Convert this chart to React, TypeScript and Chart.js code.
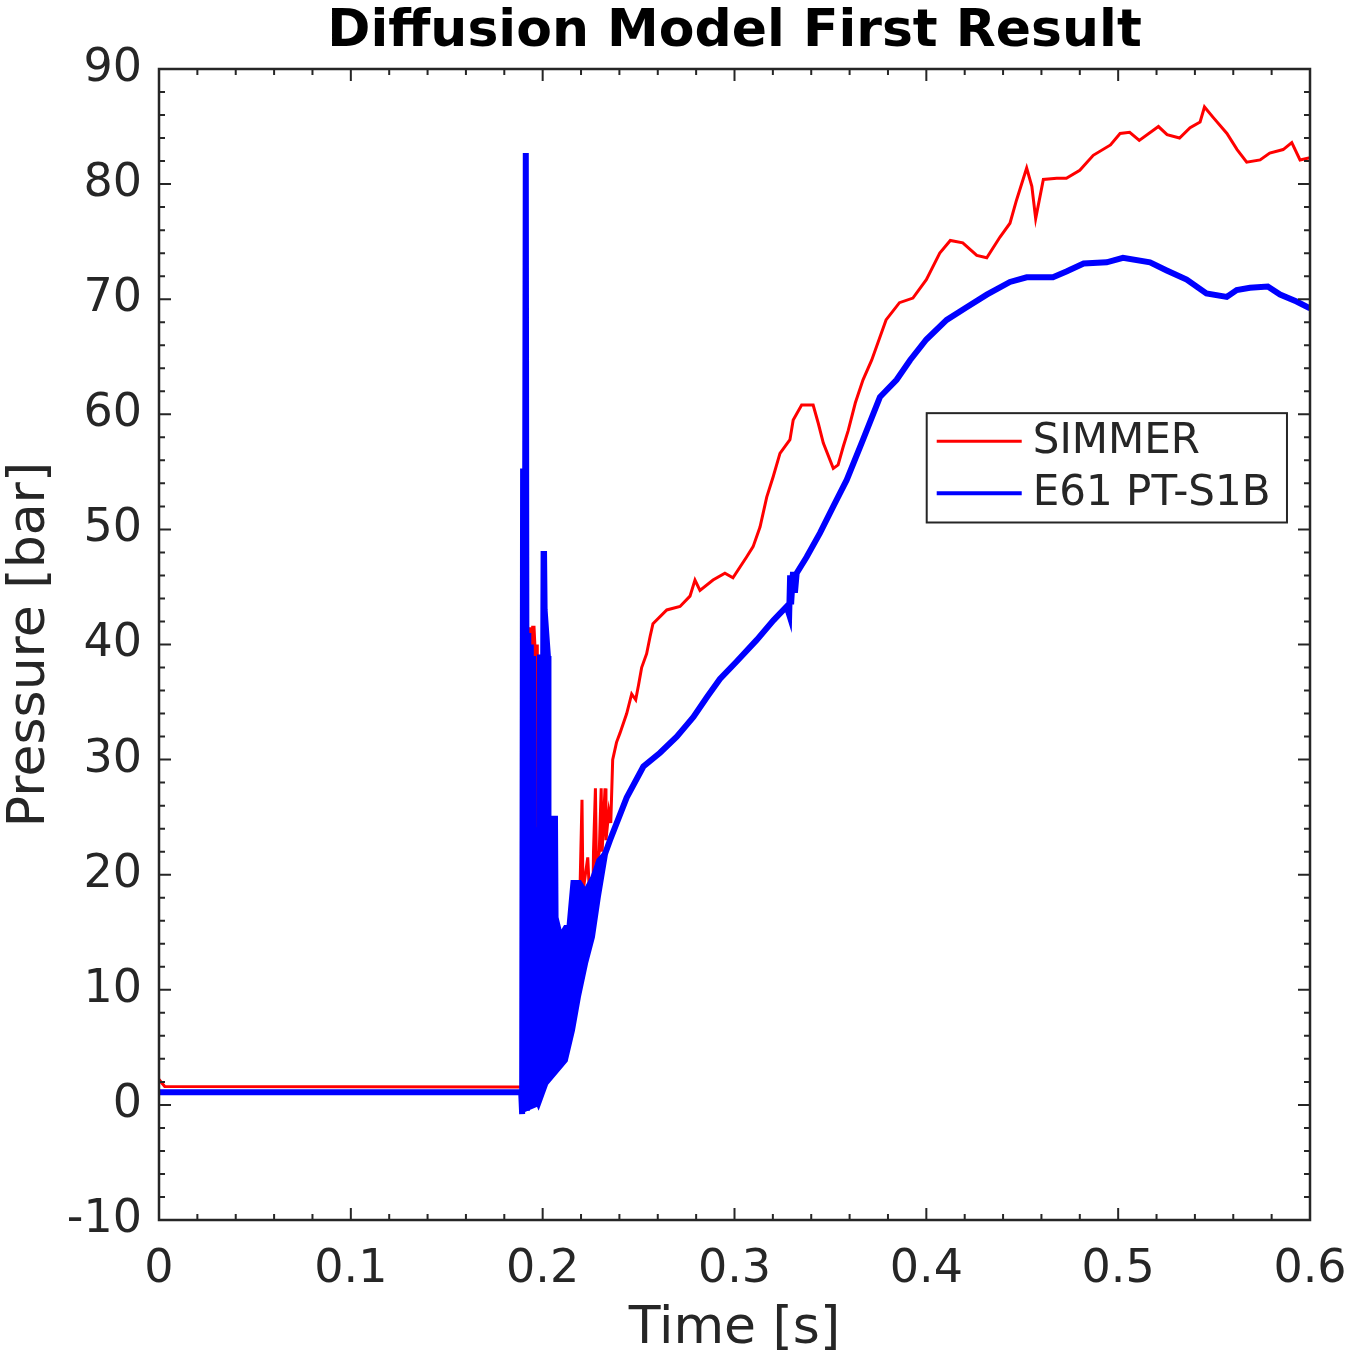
import { useEffect, useRef } from 'react';
import { Chart, registerables } from 'chart.js';

Chart.register(...registerables);

const TITLE = 'Diffusion Model First Result';
const X_TITLE = 'Time [s]';
const Y_TITLE = 'Pressure [bar]';
const FONT = "'DejaVu Sans', 'Liberation Sans', sans-serif";
const AXIS_COLOR = '#262626';

const xTicks = [0, 0.1, 0.2, 0.3, 0.4, 0.5, 0.6];
const yTicks = [-10, 0, 10, 20, 30, 40, 50, 60, 70, 80, 90];
const X_MINOR = 0.02;
const Y_MINOR = 2;

// SIMMER (red)
const simmerT = [
  0, 0.003, 0.189, 0.1905, 0.191, 0.1912, 0.1918, 0.1922, 0.1928, 0.1935, 0.1942, 0.1948, 0.1955,
  0.1962, 0.1966, 0.1972, 0.1976, 0.198, 0.2005, 0.205, 0.2085, 0.212, 0.216, 0.2195, 0.2205,
  0.221, 0.2235, 0.2245, 0.226, 0.2265, 0.2275, 0.228, 0.2295, 0.2305, 0.231, 0.2325, 0.233,
  0.2345, 0.2355, 0.2365, 0.2385, 0.2403, 0.2438, 0.2464, 0.2485, 0.25, 0.2516, 0.2542, 0.256,
  0.2575, 0.2647, 0.2716, 0.2768, 0.2794, 0.282, 0.2888, 0.295, 0.2992, 0.3063, 0.3097, 0.3133,
  0.3168, 0.3202, 0.3237, 0.3289, 0.3306, 0.335, 0.341, 0.3437, 0.3463, 0.3515, 0.354, 0.3567,
  0.3593, 0.363, 0.367, 0.3715, 0.379, 0.386, 0.393, 0.4, 0.407, 0.4125, 0.419, 0.4263, 0.4315,
  0.4384, 0.4436, 0.447, 0.4523, 0.455, 0.457, 0.461, 0.468, 0.473, 0.48, 0.487, 0.496, 0.501,
  0.506, 0.511, 0.521, 0.5255, 0.532, 0.5375, 0.5427, 0.545, 0.5495, 0.5567, 0.562, 0.567, 0.574,
  0.579, 0.586, 0.5905, 0.5948, 0.6,
];
const simmerP = [
  2.2, 1.6, 1.55, 1.5, 0.3, 41.5, 3, 41.5, 2, 41.5, 0, 41.5, 41.5,
  39, 0.5, 40, 15.4, 15, 12, 16.3, 15, 13, 16, 19, 26.5,
  18.5, 21.5, 18, 15.5, 22, 27.5, 21, 22, 27.5, 22, 27.5, 23,
  25.5, 24.5, 30, 31.5, 32.3, 34, 35.7, 35.2, 36.5, 38, 39.2, 40.7,
  41.8, 43, 43.3, 44.2, 45.6, 44.7, 45.6, 46.2, 45.8, 47.6, 48.5, 50.2,
  52.8, 54.6, 56.6, 57.8, 59.5, 60.8, 60.8, 59.2, 57.5, 55.3, 55.6, 57.2,
  58.6, 61, 63, 64.7, 68.2, 69.7, 70.1, 71.7, 74, 75.1, 74.9, 73.8, 73.6,
  75.4, 76.6, 78.6, 81.4, 79.8, 77, 80.4, 80.5, 80.5, 81.2, 82.5, 83.4, 84.4,
  84.5, 83.8, 85, 84.3, 84, 84.9, 85.4, 86.7, 85.8, 84.4, 83, 81.9, 82.1,
  82.7, 83, 83.6, 82.1, 82.3,
];

// E61 PT-S1B (blue)
const e61T = [
  0, 0.1888, 0.1893, 0.1898, 0.1903, 0.1912, 0.1918, 0.1925, 0.193, 0.1938, 0.1945, 0.195,
  0.1958, 0.1978, 0.2015, 0.2116, 0.2153, 0.2184, 0.2221, 0.2257, 0.2288, 0.2325, 0.2351,
  0.2438, 0.2525, 0.2612, 0.2699, 0.275, 0.2786, 0.2855, 0.2924, 0.301, 0.3116, 0.3203, 0.3272,
  0.3285, 0.329, 0.3295, 0.3305, 0.3315, 0.3324, 0.3376, 0.3446, 0.3515, 0.3585, 0.367, 0.3758,
  0.3845, 0.3915, 0.4, 0.4106, 0.421, 0.4315, 0.4436, 0.4523, 0.466, 0.473, 0.482, 0.494, 0.5025,
  0.5166, 0.5253, 0.5357, 0.546, 0.5566, 0.5618, 0.5687, 0.578, 0.5844, 0.593, 0.6,
];
const e61P = [
  1.1, 1.1, -0.8, 55.3, -0.5, 82.7, -0.5, 41, 0.5, 40, 0, 39,
  1, 0.2, 1.9, 3.9, 6.5, 9.4, 12.3, 14.6, 18.1, 21.8, 23,
  26.7, 29.4, 30.6, 32, 33, 33.7, 35.4, 37, 38.5, 40.4, 42.1, 43.3,
  42.6, 46, 43.5, 46.3, 44.5, 46.2, 47.6, 49.7, 52, 54.3, 57.8, 61.5,
  63, 64.7, 66.5, 68.2, 69.3, 70.4, 71.5, 71.9, 71.9, 72.4, 73.1, 73.2, 73.6,
  73.2, 72.5, 71.7, 70.5, 70.2, 70.8, 71, 71.1, 70.4, 69.8, 69.2,
];

// dense oscillation of E61 after the shock, as upper / lower envelope
const bandT = [
  0.1905, 0.1975, 0.1978, 0.1995, 0.1997, 0.2015, 0.2018, 0.2035, 0.2038, 0.2072, 0.2075,
  0.2095, 0.2116, 0.2132, 0.2153, 0.2184, 0.2195, 0.2221, 0.2247, 0.2257, 0.2288, 0.2325,
];
const bandHigh = [
  24, 24, 39, 39, 48, 48, 43, 39, 25, 25, 16.3,
  14.9, 15.5, 15.5, 19.4, 19.4, 19.4, 18.7, 19.5, 19.8, 21.3, 22,
];
const bandLow = [
  -0.5, 0, 0.2, 0.8, 1, 1.9, 2, 2.3, 2.5, 3, 3,
  3.5, 3.9, 5, 6.5, 9.4, 10.3, 12.3, 14, 14.6, 18.1, 21.5,
];

const RED = '#ff0000';
const BLUE = '#0000ff';

const toPoints = (t: number[], v: number[]) => t.map((x, i) => ({ x, y: v[i] }));

const matlabAxes = {
  id: 'matlabAxes',
  afterDatasetsDraw(chart: any) {
    const { ctx, chartArea: a, scales } = chart;
    const xs = scales.x;
    const ys = scales.y;
    ctx.save();

    // title, centred over the axes
    ctx.fillStyle = '#000000';
    ctx.font = `bold 52px ${FONT}`;
    ctx.textAlign = 'center';
    ctx.textBaseline = 'alphabetic';
    ctx.fillText(TITLE, (a.left + a.right) / 2, 46);

    ctx.strokeStyle = AXIS_COLOR;
    ctx.lineWidth = 2;
    ctx.beginPath();
    const nx = Math.round((xs.max - xs.min) / X_MINOR);
    for (let i = 0; i <= nx; i++) {
      const px = xs.getPixelForValue(xs.min + i * X_MINOR);
      const len = i % 5 === 0 ? 12 : 6;
      ctx.moveTo(px, a.bottom);
      ctx.lineTo(px, a.bottom - len);
      ctx.moveTo(px, a.top);
      ctx.lineTo(px, a.top + len);
    }
    const ny = Math.round((ys.max - ys.min) / Y_MINOR);
    for (let i = 0; i <= ny; i++) {
      const py = ys.getPixelForValue(ys.min + i * Y_MINOR);
      const len = i % 5 === 0 ? 12 : 6;
      ctx.moveTo(a.left, py);
      ctx.lineTo(a.left + len, py);
      ctx.moveTo(a.right, py);
      ctx.lineTo(a.right - len, py);
    }
    ctx.stroke();
    ctx.lineWidth = 2.5;
    ctx.strokeRect(a.left, a.top, a.right - a.left, a.bottom - a.top);

    // legend box, MATLAB style
    const w = a.right - a.left;
    const h = a.bottom - a.top;
    const bx = a.left + 0.667 * w;
    const by = a.top + 0.299 * h;
    const bw = 0.313 * w;
    const bh = 0.095 * h;
    ctx.fillStyle = '#ffffff';
    ctx.fillRect(bx, by, bw, bh);
    ctx.lineWidth = 2;
    ctx.strokeRect(bx, by, bw, bh);
    const items = [
      { label: 'SIMMER', color: RED, dy: 28, lw: 3 },
      { label: 'E61 PT-S1B', color: BLUE, dy: 80, lw: 4 },
    ];
    ctx.font = `42px ${FONT}`;
    ctx.textAlign = 'left';
    ctx.textBaseline = 'middle';
    items.forEach((it) => {
      ctx.strokeStyle = it.color;
      ctx.lineWidth = it.lw;
      ctx.beginPath();
      ctx.moveTo(bx + 10, by + it.dy);
      ctx.lineTo(bx + 95, by + it.dy);
      ctx.stroke();
      ctx.fillStyle = AXIS_COLOR;
      ctx.fillText(it.label, bx + 106, by + it.dy + 1);
    });
    ctx.restore();
  },
};

const PressureChart: React.FC = () => {
  const chartRef = useRef<HTMLCanvasElement>(null);

  useEffect(() => {
    const data = {
      datasets: [
        {
          label: 'E61 PT-S1B',
          data: toPoints(e61T, e61P),
          borderColor: BLUE,
          borderWidth: 6,
          pointRadius: 0,
          tension: 0,
          fill: false,
        },
        {
          label: 'band low',
          data: toPoints(bandT, bandLow),
          borderColor: BLUE,
          borderWidth: 3,
          pointRadius: 0,
          fill: false,
        },
        {
          label: 'band high',
          data: toPoints(bandT, bandHigh),
          borderColor: BLUE,
          borderWidth: 3,
          backgroundColor: BLUE,
          pointRadius: 0,
          fill: '-1',
        },
        {
          label: 'SIMMER',
          data: toPoints(simmerT, simmerP),
          borderColor: RED,
          borderWidth: 3,
          pointRadius: 0,
          tension: 0,
          fill: false,
        },
      ],
    };

    const config: any = {
      type: 'line',
      data: data,
      plugins: [matlabAxes],
      options: {
        responsive: false,
        animation: false,
        layout: { padding: { left: 0, right: 40, top: 69, bottom: 0 } },
        plugins: {
          legend: { display: false },
          tooltip: { enabled: false },
          title: { display: false },
        },
        scales: {
          x: {
            type: 'linear',
            min: 0,
            max: 0.6,
            grid: { display: false, drawTicks: false },
            border: { display: false },
            afterBuildTicks: (scale: any) => {
              scale.ticks = xTicks.map((v) => ({ value: v }));
            },
            afterFit: (scale: any) => {
              scale.height = 137;
              scale.paddingLeft = 0;
              scale.paddingRight = 0;
            },
            ticks: {
              color: AXIS_COLOR,
              font: { family: FONT, size: 46 },
              padding: 22,
              maxRotation: 0,
              autoSkip: false,
              callback: (v: number) => String(Math.round(v * 10) / 10),
            },
            title: {
              display: true,
              text: X_TITLE,
              color: AXIS_COLOR,
              font: { family: FONT, size: 52, lineHeight: 1.05 },
              padding: { top: 0, bottom: 0 },
            },
          },
          y: {
            type: 'linear',
            min: -10,
            max: 90,
            grid: { display: false, drawTicks: false },
            border: { display: false },
            afterBuildTicks: (scale: any) => {
              scale.ticks = yTicks.map((v) => ({ value: v }));
            },
            afterFit: (scale: any) => {
              scale.width = 159;
              scale.paddingTop = 0;
              scale.paddingBottom = 0;
            },
            ticks: {
              color: AXIS_COLOR,
              font: { family: FONT, size: 46 },
              padding: 17,
              autoSkip: false,
            },
            title: {
              display: true,
              text: Y_TITLE,
              color: AXIS_COLOR,
              font: { family: FONT, size: 52, lineHeight: 1.05 },
              padding: { top: 3, bottom: 0 },
            },
          },
        },
      },
    };

    const myChart = new Chart(chartRef.current as HTMLCanvasElement, config);

    return () => {
      if (myChart) {
        myChart.destroy();
      }
    };
  }, []);

  return (
    <div style={{ position: 'absolute', left: 0, top: 0, width: 1350, height: 1357, background: '#ffffff' }}>
      <canvas ref={chartRef} width={1350} height={1357}></canvas>
    </div>
  );
};

export default function App() {
  return <PressureChart />;
}
